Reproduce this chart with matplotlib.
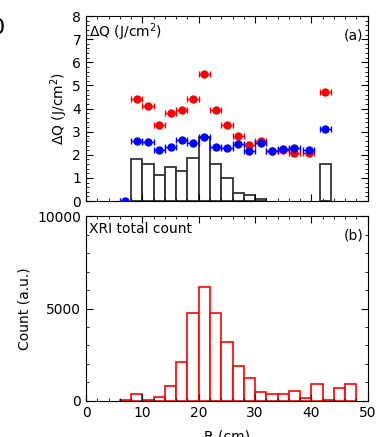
import numpy as np
import matplotlib.pyplot as plt
from matplotlib.ticker import MultipleLocator

# top panel: heat load points (red / blue) and a black histogram
r_pos = [9, 11, 13, 15, 17, 19, 21, 23, 25, 27, 29, 31, 33, 35, 37, 39.5, 42.5]
dq_red = [4.40, 4.13, 3.29, 3.80, 3.94, 4.40, 5.50, 3.93, 3.29, 2.80, 2.42, 2.58,
          2.18, 2.21, 2.09, 2.09, 4.70]
b_pos = [7] + r_pos
dq_blue = [0.0, 2.61, 2.54, 2.19, 2.34, 2.62, 2.53, 2.78, 2.35, 2.28, 2.48, 2.16,
           2.50, 2.18, 2.25, 2.29, 2.20, 3.12]
x_err = 1.0

hist_a_left = [8, 10, 12, 14, 16, 18, 20, 22, 24, 26, 28, 30, 41.5]
hist_a_val = [1.80, 1.60, 1.12, 1.48, 1.31, 1.85, 2.77, 1.59, 1.01, 0.33, 0.26, 0.07, 1.59]

# bottom panel: XRI total count histogram (2 cm bins)
hist_b_left = [6, 8, 10, 12, 14, 16, 18, 20, 22, 24, 26, 28, 30, 32, 34, 36, 38,
               40, 42, 44, 46]
hist_b_val = [30, 370, 60, 200, 810, 2090, 4780, 6150, 4780, 3210, 1890, 1230, 490,
              360, 390, 560, 160, 920, 30, 720, 900]
bin_w = 2.0

plt.rcParams['font.family'] = ['DejaVu Sans']
plt.rcParams['font.size'] = 10

fig = plt.figure(figsize=(3.84, 4.37), dpi=100)
ax1 = fig.add_axes([0.224, 0.540, 0.7336, 0.4233])
ax2 = fig.add_axes([0.224, 0.0824, 0.7336, 0.4233])

# --- panel (a)
ax1.bar(hist_a_left, hist_a_val, width=bin_w, align='edge', facecolor='white',
        edgecolor='#333333', linewidth=1.3, zorder=1)
ax1.errorbar(r_pos, dq_red, xerr=x_err, fmt='o', color='red', ms=5, capsize=2,
             elinewidth=1, zorder=3)
ax1.errorbar(b_pos, dq_blue, xerr=x_err, fmt='o', color='blue', ms=5, capsize=2,
             elinewidth=1, zorder=4)
ax1.set_xlim(0, 50)
ax1.set_ylim(0, 8)
ax1.yaxis.set_major_locator(MultipleLocator(1))
ax1.yaxis.set_minor_locator(MultipleLocator(0.2))
ax1.set_ylabel('ΔQ (J/cm$^2$)', fontsize=10, labelpad=2)
ax1.tick_params(labelbottom=False)
ax1.text(0.01, 0.97, 'ΔQ (J/cm$^2$)', transform=ax1.transAxes, ha='left', va='top')
ax1.text(0.985, 0.93, '(a)', transform=ax1.transAxes, ha='right', va='top')

# --- panel (b)
ax2.bar(hist_b_left, hist_b_val, width=bin_w, align='edge', facecolor='white',
        edgecolor='red', linewidth=1.2)
ax2.set_xlim(0, 50)
ax2.set_ylim(0, 10000)
ax2.yaxis.set_major_locator(MultipleLocator(5000))
ax2.yaxis.set_minor_locator(MultipleLocator(1000))
ax2.set_ylabel('Count (a.u.)', fontsize=10)
ax2.set_xlabel('R (cm)', fontsize=10, labelpad=7)
ax2.text(0.01, 0.97, 'XRI total count', transform=ax2.transAxes, ha='left', va='top')
ax2.text(0.985, 0.93, '(b)', transform=ax2.transAxes, ha='right', va='top')

for ax in (ax1, ax2):
    ax.xaxis.set_major_locator(MultipleLocator(10))
    ax.xaxis.set_minor_locator(MultipleLocator(2))
    ax.tick_params(which='both', direction='in', top=True, right=True, labelsize=10)
    ax.tick_params(which='major', length=5)
    ax.tick_params(which='minor', length=2.5)

# leftover of the panel label cut by the crop
fig.text(0.012, 0.935, '0', fontsize=16, ha='right', va='center')

fig.savefig('out.png', dpi=100)
